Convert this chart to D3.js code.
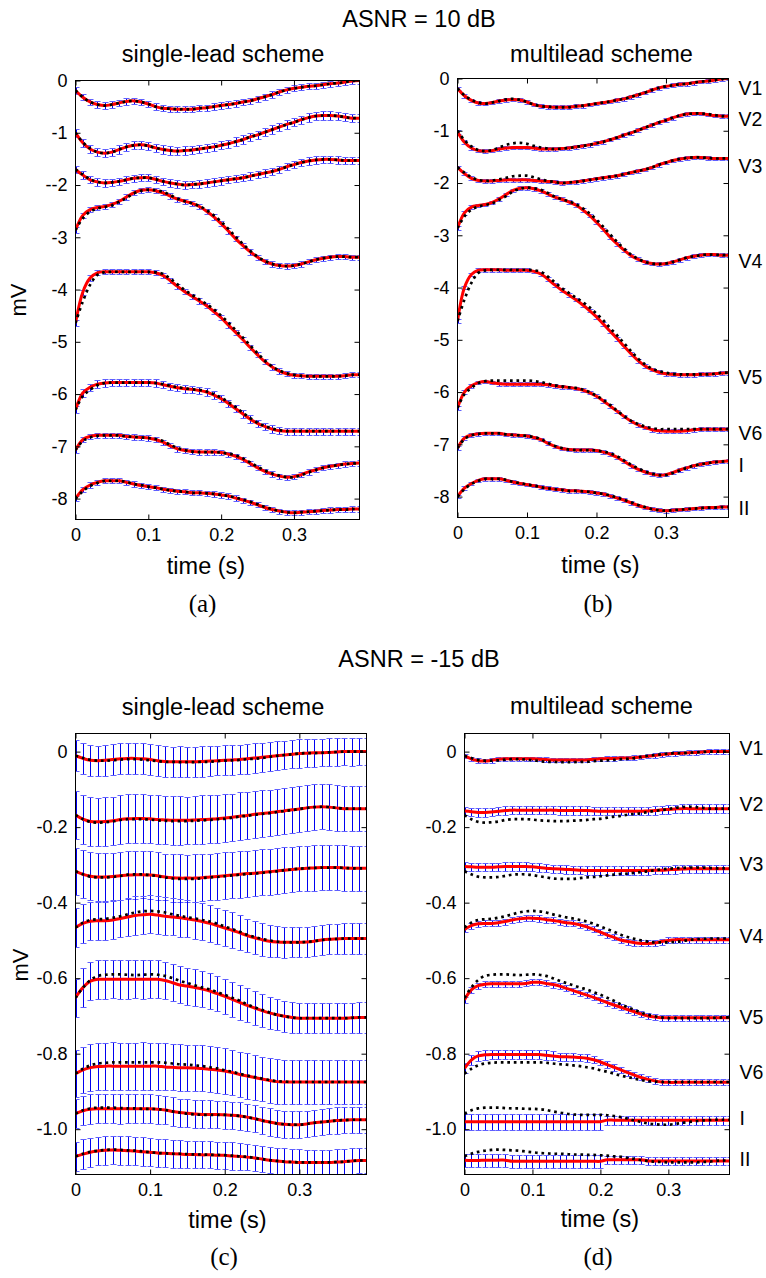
<!DOCTYPE html>
<html>
<head>
<meta charset="utf-8">
<script src="https://cdn.jsdelivr.net/npm/d3@7"></script>
<style>
  body { margin: 0; background: #fff; }
  svg { display: block; }
  text { fill: #000; }
</style>
</head>
<body>
<svg id="fig" width="766" height="1278"></svg>
<script>
// ---------------- data ----------------
const time = [0,0.01,0.02,0.03,0.04,0.05,0.06,0.07,0.08,0.09,0.10,0.11,0.12,0.13,0.14,0.15,0.16,0.17,0.18,0.19,
              0.20,0.21,0.22,0.23,0.24,0.25,0.26,0.27,0.28,0.29,0.30,0.31,0.32,0.33,0.34,0.35,0.36,0.37,0.38,0.39];
const leads = ["V1","V2","V3","V4","V5","V6","I","II"];

const xTicks = [0, 0.1, 0.2, 0.3];
const xTickLabels = ["0", "0.1", "0.2", "0.3"];
const yTicksTop = [0,-1,-2,-3,-4,-5,-6,-7,-8];
const yTickLabelsSingleTop = ["0","-1","--2","-3","-4","-5","-6","-7","-8"];
const yTickLabelsMultiTop = ["0","-1","-2","-3","-4","-5","-6","-7","-8"];
const yTicksBottom = [0,-0.2,-0.4,-0.6,-0.8,-1.0];
const yTickLabelsBottom = ["0","-0.2","-0.4","-0.6","-0.8","-1.0"];

// ASNR = 10 dB : reference beats (mV, offset per lead)
const trueTop = [
  [-0.19,-0.32,-0.41,-0.46,-0.48,-0.46,-0.43,-0.40,-0.39,-0.41,-0.45,-0.50,-0.53,-0.54,-0.55,-0.55,-0.55,-0.53,-0.52,-0.50,-0.48,-0.46,-0.44,-0.41,-0.39,-0.35,-0.31,-0.27,-0.22,-0.18,-0.15,-0.13,-0.11,-0.10,-0.08,-0.06,-0.05,-0.03,-0.01,0.00],
  [-1.00,-1.18,-1.30,-1.37,-1.39,-1.37,-1.32,-1.27,-1.24,-1.23,-1.25,-1.29,-1.32,-1.34,-1.35,-1.34,-1.33,-1.31,-1.29,-1.27,-1.24,-1.21,-1.17,-1.13,-1.08,-1.04,-0.99,-0.94,-0.89,-0.84,-0.80,-0.75,-0.71,-0.68,-0.67,-0.67,-0.68,-0.70,-0.72,-0.72],
  [-1.70,-1.80,-1.89,-1.94,-1.96,-1.95,-1.93,-1.90,-1.87,-1.86,-1.86,-1.89,-1.93,-1.96,-1.98,-2.00,-1.99,-1.98,-1.96,-1.94,-1.92,-1.90,-1.88,-1.86,-1.83,-1.80,-1.77,-1.74,-1.70,-1.65,-1.61,-1.57,-1.54,-1.52,-1.51,-1.51,-1.52,-1.53,-1.53,-1.53],
  [-2.86,-2.64,-2.51,-2.45,-2.42,-2.39,-2.32,-2.25,-2.16,-2.11,-2.09,-2.10,-2.13,-2.19,-2.26,-2.31,-2.35,-2.40,-2.48,-2.58,-2.70,-2.84,-2.99,-3.13,-3.26,-3.37,-3.45,-3.51,-3.54,-3.55,-3.54,-3.51,-3.47,-3.43,-3.40,-3.38,-3.37,-3.37,-3.38,-3.38],
  [-4.64,-4.23,-3.91,-3.72,-3.67,-3.66,-3.66,-3.66,-3.66,-3.66,-3.66,-3.67,-3.70,-3.79,-3.90,-4.01,-4.10,-4.19,-4.28,-4.38,-4.50,-4.63,-4.78,-4.92,-5.07,-5.22,-5.36,-5.47,-5.55,-5.60,-5.63,-5.65,-5.66,-5.66,-5.66,-5.66,-5.66,-5.65,-5.63,-5.63],
  [-6.30,-6.04,-5.92,-5.83,-5.79,-5.78,-5.78,-5.78,-5.78,-5.78,-5.78,-5.79,-5.81,-5.84,-5.87,-5.89,-5.91,-5.92,-5.95,-6.00,-6.07,-6.15,-6.25,-6.36,-6.46,-6.55,-6.61,-6.66,-6.69,-6.71,-6.71,-6.71,-6.71,-6.71,-6.71,-6.71,-6.71,-6.71,-6.71,-6.71],
  [-7.07,-6.90,-6.83,-6.80,-6.79,-6.79,-6.79,-6.81,-6.82,-6.83,-6.84,-6.86,-6.90,-6.97,-7.03,-7.07,-7.10,-7.11,-7.11,-7.11,-7.12,-7.14,-7.17,-7.23,-7.31,-7.39,-7.46,-7.52,-7.56,-7.59,-7.59,-7.55,-7.50,-7.45,-7.41,-7.38,-7.36,-7.34,-7.33,-7.32],
  [-8.00,-7.86,-7.76,-7.70,-7.66,-7.66,-7.66,-7.68,-7.72,-7.74,-7.77,-7.79,-7.82,-7.84,-7.86,-7.87,-7.89,-7.89,-7.90,-7.91,-7.93,-7.95,-7.98,-8.02,-8.06,-8.11,-8.16,-8.20,-8.24,-8.26,-8.27,-8.26,-8.25,-8.24,-8.23,-8.22,-8.21,-8.21,-8.20,-8.20]
];

// single-lead estimate, ASNR = 10 dB
const estSingleTop = [
  [-0.19,-0.32,-0.41,-0.46,-0.48,-0.46,-0.43,-0.40,-0.39,-0.41,-0.45,-0.50,-0.53,-0.54,-0.55,-0.55,-0.55,-0.53,-0.52,-0.50,-0.48,-0.46,-0.44,-0.41,-0.39,-0.35,-0.31,-0.27,-0.22,-0.18,-0.15,-0.13,-0.11,-0.10,-0.08,-0.06,-0.05,-0.03,-0.01,0.00],
  [-1.00,-1.19,-1.31,-1.37,-1.39,-1.37,-1.32,-1.27,-1.24,-1.23,-1.25,-1.29,-1.32,-1.34,-1.35,-1.34,-1.33,-1.31,-1.29,-1.27,-1.24,-1.21,-1.17,-1.13,-1.08,-1.04,-0.99,-0.94,-0.89,-0.84,-0.80,-0.75,-0.71,-0.68,-0.67,-0.67,-0.68,-0.70,-0.72,-0.72],
  [-1.70,-1.81,-1.90,-1.94,-1.96,-1.95,-1.93,-1.90,-1.87,-1.86,-1.86,-1.89,-1.93,-1.96,-1.98,-2.00,-1.99,-1.98,-1.96,-1.94,-1.92,-1.90,-1.88,-1.86,-1.83,-1.80,-1.77,-1.74,-1.70,-1.65,-1.61,-1.57,-1.54,-1.52,-1.51,-1.51,-1.52,-1.53,-1.53,-1.53],
  [-2.86,-2.58,-2.47,-2.43,-2.41,-2.37,-2.31,-2.23,-2.15,-2.10,-2.09,-2.11,-2.15,-2.21,-2.27,-2.31,-2.35,-2.41,-2.50,-2.61,-2.74,-2.88,-3.03,-3.16,-3.28,-3.38,-3.46,-3.51,-3.54,-3.55,-3.54,-3.51,-3.47,-3.43,-3.40,-3.38,-3.37,-3.37,-3.38,-3.38],
  [-4.64,-4.05,-3.78,-3.68,-3.66,-3.66,-3.66,-3.66,-3.66,-3.66,-3.66,-3.68,-3.73,-3.83,-3.94,-4.04,-4.13,-4.22,-4.31,-4.42,-4.54,-4.68,-4.82,-4.96,-5.11,-5.25,-5.38,-5.48,-5.56,-5.61,-5.64,-5.65,-5.66,-5.66,-5.66,-5.66,-5.66,-5.65,-5.63,-5.63],
  [-6.30,-5.98,-5.87,-5.81,-5.79,-5.78,-5.78,-5.78,-5.78,-5.78,-5.78,-5.79,-5.82,-5.85,-5.88,-5.90,-5.91,-5.93,-5.96,-6.02,-6.09,-6.18,-6.28,-6.38,-6.48,-6.56,-6.62,-6.67,-6.70,-6.71,-6.71,-6.71,-6.71,-6.71,-6.71,-6.71,-6.71,-6.71,-6.71,-6.71],
  [-7.07,-6.87,-6.81,-6.79,-6.79,-6.79,-6.79,-6.81,-6.82,-6.83,-6.84,-6.87,-6.92,-6.99,-7.05,-7.08,-7.10,-7.11,-7.11,-7.11,-7.12,-7.15,-7.19,-7.25,-7.33,-7.41,-7.48,-7.53,-7.57,-7.59,-7.58,-7.54,-7.49,-7.45,-7.41,-7.38,-7.36,-7.34,-7.33,-7.32],
  [-8.00,-7.83,-7.74,-7.69,-7.66,-7.66,-7.66,-7.69,-7.72,-7.75,-7.77,-7.79,-7.82,-7.84,-7.86,-7.87,-7.89,-7.89,-7.90,-7.91,-7.93,-7.95,-7.99,-8.03,-8.07,-8.12,-8.17,-8.21,-8.24,-8.26,-8.27,-8.26,-8.25,-8.24,-8.23,-8.22,-8.21,-8.21,-8.20,-8.20]
];

// multilead estimate, ASNR = 10 dB
const estMultiTop = [
  [-0.19,-0.33,-0.42,-0.47,-0.48,-0.46,-0.43,-0.41,-0.40,-0.41,-0.45,-0.50,-0.53,-0.54,-0.55,-0.55,-0.55,-0.53,-0.52,-0.50,-0.48,-0.46,-0.44,-0.41,-0.39,-0.35,-0.31,-0.27,-0.22,-0.18,-0.15,-0.13,-0.11,-0.10,-0.08,-0.06,-0.05,-0.03,-0.01,0.00],
  [-1.02,-1.22,-1.33,-1.38,-1.39,-1.38,-1.35,-1.33,-1.32,-1.32,-1.32,-1.33,-1.35,-1.35,-1.35,-1.34,-1.33,-1.31,-1.29,-1.27,-1.24,-1.21,-1.17,-1.13,-1.08,-1.04,-0.99,-0.94,-0.89,-0.84,-0.80,-0.75,-0.71,-0.68,-0.67,-0.67,-0.69,-0.71,-0.72,-0.72],
  [-1.70,-1.82,-1.91,-1.95,-1.96,-1.96,-1.95,-1.94,-1.94,-1.94,-1.94,-1.95,-1.96,-1.97,-1.98,-2.00,-1.99,-1.98,-1.96,-1.94,-1.92,-1.90,-1.88,-1.86,-1.83,-1.80,-1.77,-1.74,-1.70,-1.65,-1.61,-1.57,-1.54,-1.52,-1.51,-1.51,-1.52,-1.53,-1.53,-1.53],
  [-2.86,-2.57,-2.46,-2.43,-2.41,-2.37,-2.30,-2.22,-2.14,-2.10,-2.09,-2.11,-2.15,-2.21,-2.27,-2.31,-2.36,-2.42,-2.51,-2.62,-2.75,-2.89,-3.04,-3.17,-3.29,-3.39,-3.46,-3.51,-3.54,-3.55,-3.54,-3.51,-3.47,-3.43,-3.40,-3.38,-3.37,-3.37,-3.38,-3.38],
  [-4.64,-4.00,-3.75,-3.67,-3.66,-3.66,-3.66,-3.67,-3.67,-3.67,-3.67,-3.69,-3.74,-3.84,-3.95,-4.05,-4.14,-4.23,-4.33,-4.44,-4.56,-4.70,-4.84,-4.98,-5.13,-5.27,-5.40,-5.50,-5.57,-5.62,-5.65,-5.66,-5.67,-5.67,-5.67,-5.66,-5.66,-5.65,-5.64,-5.63],
  [-6.30,-6.00,-5.88,-5.82,-5.80,-5.82,-5.84,-5.85,-5.85,-5.85,-5.85,-5.85,-5.85,-5.86,-5.88,-5.90,-5.91,-5.93,-5.96,-6.01,-6.08,-6.17,-6.27,-6.37,-6.47,-6.56,-6.63,-6.68,-6.72,-6.74,-6.75,-6.75,-6.75,-6.74,-6.72,-6.71,-6.71,-6.71,-6.71,-6.71],
  [-7.07,-6.88,-6.82,-6.80,-6.79,-6.79,-6.79,-6.81,-6.82,-6.83,-6.84,-6.87,-6.91,-6.98,-7.04,-7.08,-7.10,-7.11,-7.11,-7.11,-7.12,-7.15,-7.19,-7.25,-7.33,-7.41,-7.48,-7.53,-7.57,-7.59,-7.58,-7.54,-7.49,-7.45,-7.41,-7.38,-7.36,-7.34,-7.33,-7.32],
  [-8.00,-7.84,-7.75,-7.69,-7.66,-7.66,-7.66,-7.69,-7.72,-7.75,-7.77,-7.79,-7.82,-7.84,-7.86,-7.87,-7.89,-7.89,-7.90,-7.91,-7.93,-7.95,-7.99,-8.03,-8.07,-8.12,-8.17,-8.21,-8.24,-8.26,-8.27,-8.26,-8.25,-8.24,-8.23,-8.22,-8.21,-8.21,-8.20,-8.20]
];

// standard deviation of the estimates, ASNR = 10 dB (mV, per lead)
const stdSingleTop = [0.06, 0.08, 0.07, 0.05, 0.05, 0.07, 0.05, 0.05];
const stdMultiTop  = [0.035, 0.035, 0.035, 0.035, 0.035, 0.035, 0.035, 0.035];

// ASNR = -15 dB : reference beats (mV, offset per lead)
const trueBottom = [
  [-0.011,-0.017,-0.022,-0.024,-0.024,-0.023,-0.021,-0.020,-0.020,-0.021,-0.023,-0.025,-0.027,-0.027,-0.028,-0.028,-0.028,-0.027,-0.027,-0.025,-0.024,-0.023,-0.022,-0.020,-0.019,-0.017,-0.014,-0.011,-0.009,-0.007,-0.005,-0.004,-0.004,-0.003,-0.002,-0.001,0.000,0.000,0.000,0.000],
  [-0.168,-0.179,-0.186,-0.188,-0.187,-0.185,-0.181,-0.179,-0.179,-0.179,-0.180,-0.182,-0.183,-0.184,-0.184,-0.184,-0.183,-0.182,-0.181,-0.179,-0.178,-0.175,-0.172,-0.170,-0.167,-0.165,-0.163,-0.160,-0.157,-0.155,-0.152,-0.149,-0.147,-0.146,-0.147,-0.149,-0.151,-0.151,-0.151,-0.151],
  [-0.317,-0.325,-0.331,-0.333,-0.333,-0.332,-0.329,-0.326,-0.325,-0.325,-0.327,-0.330,-0.333,-0.336,-0.337,-0.337,-0.337,-0.335,-0.333,-0.332,-0.330,-0.328,-0.326,-0.324,-0.323,-0.321,-0.319,-0.317,-0.314,-0.312,-0.310,-0.309,-0.308,-0.307,-0.307,-0.307,-0.308,-0.309,-0.309,-0.309],
  [-0.466,-0.453,-0.446,-0.444,-0.443,-0.440,-0.436,-0.431,-0.426,-0.423,-0.422,-0.423,-0.426,-0.431,-0.435,-0.439,-0.442,-0.446,-0.450,-0.456,-0.463,-0.470,-0.477,-0.485,-0.491,-0.496,-0.500,-0.503,-0.505,-0.505,-0.505,-0.504,-0.502,-0.499,-0.497,-0.496,-0.495,-0.495,-0.495,-0.495],
  [-0.652,-0.625,-0.605,-0.594,-0.591,-0.590,-0.590,-0.591,-0.592,-0.591,-0.590,-0.591,-0.594,-0.600,-0.607,-0.613,-0.619,-0.625,-0.630,-0.637,-0.644,-0.652,-0.660,-0.669,-0.677,-0.684,-0.691,-0.697,-0.701,-0.704,-0.706,-0.706,-0.706,-0.706,-0.706,-0.706,-0.706,-0.705,-0.704,-0.704],
  [-0.853,-0.840,-0.831,-0.826,-0.824,-0.823,-0.823,-0.823,-0.823,-0.823,-0.823,-0.823,-0.824,-0.826,-0.828,-0.829,-0.831,-0.833,-0.836,-0.839,-0.844,-0.848,-0.853,-0.858,-0.862,-0.866,-0.870,-0.873,-0.874,-0.875,-0.875,-0.875,-0.875,-0.875,-0.875,-0.875,-0.875,-0.875,-0.875,-0.875],
  [-0.959,-0.950,-0.945,-0.943,-0.943,-0.943,-0.944,-0.945,-0.945,-0.946,-0.946,-0.947,-0.949,-0.953,-0.956,-0.959,-0.961,-0.962,-0.962,-0.962,-0.962,-0.963,-0.965,-0.968,-0.972,-0.977,-0.981,-0.985,-0.987,-0.988,-0.988,-0.986,-0.983,-0.981,-0.979,-0.977,-0.976,-0.975,-0.975,-0.975],
  [-1.072,-1.065,-1.060,-1.057,-1.055,-1.054,-1.055,-1.056,-1.057,-1.059,-1.061,-1.063,-1.064,-1.065,-1.065,-1.066,-1.067,-1.067,-1.068,-1.068,-1.069,-1.070,-1.072,-1.073,-1.076,-1.079,-1.082,-1.084,-1.086,-1.087,-1.088,-1.088,-1.088,-1.088,-1.088,-1.087,-1.086,-1.084,-1.083,-1.083]
];

// single-lead estimate, ASNR = -15 dB
const estSingleBottom = [
  [-0.011,-0.018,-0.023,-0.024,-0.023,-0.021,-0.019,-0.018,-0.018,-0.019,-0.021,-0.024,-0.026,-0.027,-0.027,-0.027,-0.027,-0.026,-0.025,-0.024,-0.023,-0.022,-0.021,-0.019,-0.017,-0.015,-0.013,-0.011,-0.009,-0.007,-0.005,-0.004,-0.003,-0.003,-0.002,-0.001,0.000,0.000,0.000,0.000],
  [-0.168,-0.179,-0.185,-0.186,-0.185,-0.183,-0.180,-0.178,-0.177,-0.177,-0.178,-0.180,-0.181,-0.182,-0.182,-0.182,-0.181,-0.180,-0.179,-0.178,-0.176,-0.174,-0.171,-0.169,-0.166,-0.164,-0.162,-0.159,-0.157,-0.154,-0.152,-0.149,-0.147,-0.146,-0.147,-0.149,-0.151,-0.151,-0.151,-0.151],
  [-0.317,-0.325,-0.330,-0.332,-0.332,-0.331,-0.329,-0.327,-0.326,-0.326,-0.327,-0.329,-0.332,-0.334,-0.335,-0.335,-0.335,-0.334,-0.332,-0.331,-0.329,-0.327,-0.325,-0.323,-0.322,-0.320,-0.318,-0.316,-0.314,-0.312,-0.310,-0.309,-0.308,-0.307,-0.307,-0.307,-0.308,-0.309,-0.309,-0.309],
  [-0.466,-0.455,-0.449,-0.448,-0.448,-0.446,-0.442,-0.438,-0.434,-0.432,-0.431,-0.433,-0.436,-0.438,-0.440,-0.443,-0.446,-0.450,-0.455,-0.461,-0.467,-0.473,-0.480,-0.487,-0.493,-0.498,-0.502,-0.504,-0.505,-0.505,-0.505,-0.504,-0.502,-0.499,-0.497,-0.496,-0.495,-0.495,-0.495,-0.495],
  [-0.652,-0.625,-0.608,-0.603,-0.603,-0.603,-0.603,-0.603,-0.603,-0.603,-0.603,-0.603,-0.606,-0.612,-0.618,-0.621,-0.625,-0.629,-0.634,-0.641,-0.648,-0.656,-0.664,-0.672,-0.679,-0.686,-0.692,-0.697,-0.701,-0.704,-0.706,-0.706,-0.706,-0.706,-0.706,-0.706,-0.706,-0.705,-0.704,-0.704],
  [-0.853,-0.843,-0.837,-0.834,-0.833,-0.833,-0.833,-0.833,-0.833,-0.833,-0.833,-0.833,-0.835,-0.836,-0.837,-0.837,-0.838,-0.839,-0.841,-0.843,-0.846,-0.850,-0.855,-0.859,-0.863,-0.867,-0.871,-0.874,-0.875,-0.875,-0.875,-0.875,-0.875,-0.875,-0.875,-0.875,-0.875,-0.875,-0.875,-0.875],
  [-0.959,-0.951,-0.947,-0.946,-0.946,-0.946,-0.946,-0.946,-0.946,-0.946,-0.946,-0.947,-0.949,-0.953,-0.956,-0.958,-0.960,-0.961,-0.961,-0.961,-0.962,-0.963,-0.965,-0.968,-0.972,-0.977,-0.981,-0.985,-0.987,-0.988,-0.988,-0.986,-0.983,-0.981,-0.979,-0.977,-0.976,-0.975,-0.975,-0.975],
  [-1.072,-1.066,-1.061,-1.058,-1.056,-1.055,-1.056,-1.057,-1.058,-1.060,-1.061,-1.063,-1.064,-1.065,-1.066,-1.067,-1.067,-1.068,-1.068,-1.069,-1.069,-1.071,-1.072,-1.074,-1.076,-1.079,-1.082,-1.084,-1.086,-1.087,-1.088,-1.088,-1.088,-1.088,-1.088,-1.087,-1.086,-1.084,-1.083,-1.083]
];

// multilead estimate, ASNR = -15 dB
const estMultiBottom = [
  [-0.011,-0.019,-0.024,-0.025,-0.023,-0.020,-0.019,-0.019,-0.019,-0.019,-0.019,-0.020,-0.021,-0.022,-0.022,-0.022,-0.022,-0.022,-0.022,-0.020,-0.019,-0.018,-0.018,-0.017,-0.017,-0.016,-0.014,-0.012,-0.010,-0.008,-0.006,-0.005,-0.004,-0.003,-0.002,-0.001,0.000,0.000,0.000,0.000],
  [-0.157,-0.159,-0.161,-0.161,-0.160,-0.158,-0.156,-0.155,-0.155,-0.155,-0.155,-0.155,-0.155,-0.155,-0.156,-0.156,-0.156,-0.156,-0.156,-0.157,-0.158,-0.158,-0.158,-0.158,-0.158,-0.158,-0.158,-0.157,-0.156,-0.154,-0.153,-0.152,-0.151,-0.151,-0.151,-0.151,-0.151,-0.151,-0.151,-0.151],
  [-0.304,-0.305,-0.306,-0.306,-0.306,-0.305,-0.304,-0.304,-0.304,-0.304,-0.305,-0.307,-0.309,-0.310,-0.311,-0.312,-0.313,-0.314,-0.315,-0.315,-0.315,-0.315,-0.315,-0.315,-0.315,-0.315,-0.315,-0.315,-0.314,-0.314,-0.313,-0.312,-0.311,-0.310,-0.310,-0.310,-0.310,-0.310,-0.310,-0.310],
  [-0.471,-0.461,-0.456,-0.455,-0.455,-0.453,-0.450,-0.446,-0.443,-0.441,-0.441,-0.442,-0.445,-0.447,-0.450,-0.453,-0.455,-0.459,-0.464,-0.471,-0.478,-0.486,-0.492,-0.499,-0.503,-0.506,-0.508,-0.508,-0.507,-0.503,-0.500,-0.498,-0.498,-0.498,-0.498,-0.498,-0.498,-0.498,-0.498,-0.498],
  [-0.657,-0.631,-0.620,-0.616,-0.615,-0.615,-0.615,-0.615,-0.615,-0.614,-0.611,-0.611,-0.614,-0.617,-0.621,-0.627,-0.633,-0.639,-0.645,-0.651,-0.658,-0.665,-0.671,-0.677,-0.683,-0.689,-0.695,-0.700,-0.703,-0.705,-0.705,-0.705,-0.705,-0.705,-0.705,-0.705,-0.705,-0.705,-0.705,-0.705],
  [-0.839,-0.817,-0.806,-0.803,-0.802,-0.802,-0.802,-0.802,-0.802,-0.802,-0.802,-0.802,-0.804,-0.806,-0.808,-0.808,-0.809,-0.810,-0.812,-0.816,-0.822,-0.829,-0.836,-0.843,-0.850,-0.857,-0.863,-0.868,-0.872,-0.875,-0.876,-0.876,-0.876,-0.876,-0.876,-0.876,-0.876,-0.876,-0.876,-0.876],
  [-0.980,-0.980,-0.980,-0.980,-0.980,-0.980,-0.980,-0.980,-0.980,-0.980,-0.980,-0.980,-0.980,-0.980,-0.980,-0.980,-0.980,-0.980,-0.980,-0.980,-0.980,-0.976,-0.976,-0.976,-0.976,-0.976,-0.976,-0.976,-0.976,-0.976,-0.976,-0.976,-0.976,-0.976,-0.976,-0.976,-0.976,-0.976,-0.976,-0.976],
  [-1.082,-1.083,-1.083,-1.082,-1.082,-1.082,-1.082,-1.085,-1.085,-1.085,-1.085,-1.085,-1.085,-1.085,-1.085,-1.085,-1.085,-1.085,-1.085,-1.085,-1.085,-1.081,-1.081,-1.081,-1.081,-1.081,-1.081,-1.084,-1.084,-1.084,-1.084,-1.084,-1.084,-1.084,-1.084,-1.084,-1.084,-1.084,-1.084,-1.084]
];

// standard deviation of the estimates, ASNR = -15 dB (mV)
const stdSingleBottom = [
  [0.041,0.040,0.041,0.040,0.041,0.040,0.041,0.041,0.040,0.041,0.040,0.041,0.040,0.040,0.041,0.040,0.040,0.041,0.040,0.039,0.040,0.039,0.039,0.040,0.039,0.038,0.039,0.038,0.038,0.037,0.038,0.037,0.037,0.036,0.037,0.036,0.036,0.037,0.036,0.036],
  [0.064,0.065,0.064,0.064,0.065,0.064,0.064,0.065,0.064,0.064,0.064,0.065,0.064,0.064,0.064,0.063,0.064,0.064,0.063,0.063,0.063,0.062,0.063,0.062,0.062,0.062,0.061,0.061,0.061,0.061,0.060,0.061,0.060,0.060,0.060,0.060,0.060,0.060,0.060,0.060],
  [0.063,0.064,0.063,0.063,0.064,0.063,0.063,0.063,0.064,0.063,0.063,0.063,0.062,0.063,0.063,0.062,0.063,0.062,0.062,0.062,0.062,0.061,0.062,0.061,0.061,0.061,0.061,0.060,0.061,0.060,0.060,0.060,0.060,0.060,0.060,0.060,0.060,0.060,0.060,0.060],
  [0.052,0.051,0.050,0.050,0.051,0.050,0.050,0.050,0.051,0.050,0.050,0.050,0.050,0.049,0.050,0.049,0.049,0.049,0.048,0.048,0.047,0.047,0.046,0.045,0.044,0.043,0.042,0.041,0.041,0.040,0.040,0.040,0.040,0.040,0.040,0.040,0.040,0.040,0.040,0.040],
  [0.050,0.051,0.051,0.051,0.051,0.050,0.051,0.051,0.050,0.051,0.050,0.050,0.050,0.049,0.049,0.049,0.048,0.048,0.048,0.047,0.047,0.046,0.046,0.045,0.044,0.043,0.042,0.041,0.041,0.040,0.040,0.040,0.040,0.040,0.040,0.040,0.040,0.040,0.040,0.040],
  [0.062,0.062,0.063,0.062,0.062,0.063,0.062,0.062,0.062,0.063,0.062,0.062,0.062,0.061,0.062,0.061,0.061,0.061,0.061,0.060,0.060,0.060,0.060,0.060,0.059,0.059,0.059,0.059,0.059,0.059,0.059,0.058,0.059,0.058,0.058,0.058,0.058,0.058,0.058,0.058],
  [0.038,0.038,0.039,0.038,0.038,0.038,0.039,0.038,0.038,0.038,0.038,0.038,0.037,0.038,0.037,0.037,0.037,0.037,0.037,0.036,0.037,0.036,0.036,0.036,0.036,0.036,0.036,0.035,0.036,0.035,0.035,0.035,0.035,0.035,0.035,0.035,0.035,0.035,0.035,0.035],
  [0.038,0.039,0.038,0.038,0.039,0.038,0.038,0.038,0.038,0.038,0.037,0.038,0.037,0.037,0.037,0.037,0.037,0.036,0.036,0.036,0.036,0.036,0.036,0.035,0.035,0.035,0.035,0.035,0.035,0.034,0.035,0.034,0.034,0.034,0.034,0.034,0.034,0.034,0.034,0.034]
];
const stdMultiBottom = [
  0.006, 0.011, 0.011, 0.008, 0.008,
  [0.013,0.013,0.013,0.013,0.013,0.013,0.013,0.013,0.013,0.013,0.013,0.013,0.013,0.012,0.011,0.011,0.010,0.010,0.010,0.009,0.009,0.009,0.009,0.008,0.008,0.008,0.008,0.008,0.008,0.008,0.008,0.008,0.008,0.008,0.008,0.008,0.008,0.008,0.008,0.008],
  [0.021,0.021,0.021,0.021,0.021,0.021,0.021,0.021,0.021,0.021,0.021,0.021,0.021,0.021,0.021,0.021,0.021,0.021,0.021,0.021,0.021,0.012,0.012,0.012,0.012,0.012,0.012,0.012,0.012,0.012,0.012,0.012,0.012,0.012,0.012,0.012,0.012,0.012,0.012,0.012],
  [0.017,0.017,0.017,0.017,0.017,0.017,0.017,0.017,0.017,0.017,0.017,0.017,0.017,0.017,0.017,0.017,0.017,0.017,0.017,0.017,0.017,0.010,0.010,0.010,0.010,0.010,0.010,0.010,0.010,0.010,0.010,0.010,0.010,0.010,0.010,0.010,0.010,0.010,0.010,0.010]
];

// lead-name anchors (mV) beside the multilead panels
const leadLabelMvTop = [-0.19, -0.78, -1.67, -3.49, -5.71, -6.78, -7.40, -8.22];
const leadLabelMvBottom = [0.009, -0.139, -0.298, -0.489, -0.702, -0.848, -0.969, -1.078];

// ---------------- drawing ----------------
const SANS = 'Arial, "Liberation Sans", Helvetica, sans-serif';
const SERIF = '"Times New Roman", "Liberation Serif", Times, serif';
const svg = d3.select("#fig");
const FONT_TICK = 18, FONT_LABEL = 23.5;
const crisp = v => Math.round(v) + 0.5;

function drawPanel(id, box, yDomain, yTicks, yTickLabels, truth, est, std, leadAnchors) {
  const x = d3.scaleLinear().domain([0, 0.39]).range([box.left, box.right]);
  const y = d3.scaleLinear().domain(yDomain).range([box.bottom, box.top]);
  const g = svg.append("g");

  g.append("clipPath").attr("id", "clip-" + id)
    .append("rect").attr("x", box.left).attr("y", box.top)
    .attr("width", box.right - box.left).attr("height", box.bottom - box.top);

  const plot = g.append("g").attr("clip-path", "url(#clip-" + id + ")");
  const sd = (i, j) => Array.isArray(std[i]) ? std[i][j] : std[i];

  // error bars (mean +/- one standard deviation)
  est.forEach((series, i) => {
    const bars = plot.append("g").attr("stroke-width", 1).attr("fill", "none");
    series.forEach((v, j) => {
      const cx = crisp(x(time[j]));
      const yT = crisp(y(v + sd(i, j))), yB = crisp(y(v - sd(i, j)));
      bars.append("line").attr("x1", cx).attr("x2", cx).attr("y1", yT).attr("y2", yB).attr("stroke", "#0000f0");
      bars.append("line").attr("x1", cx - 3).attr("x2", cx + 3).attr("y1", yT).attr("y2", yT).attr("stroke", "#6060ff");
      bars.append("line").attr("x1", cx - 3).attr("x2", cx + 3).attr("y1", yB).attr("y2", yB).attr("stroke", "#6060ff");
    });
  });

  const line = d3.line().x((d, j) => x(time[j])).y(d => y(d)).curve(d3.curveCatmullRom);

  // estimated beats
  plot.selectAll("path.est").data(est).join("path")
    .attr("class", "est").attr("d", line)
    .attr("fill", "none").attr("stroke", "#ff0000").attr("stroke-width", 3);

  // reference beats
  plot.selectAll("path.truth").data(truth).join("path")
    .attr("class", "truth").attr("d", line)
    .attr("fill", "none").attr("stroke", "#000").attr("stroke-width", 2.7)
    .attr("stroke-dasharray", "2.7 3.8");

  // axes (box with inward ticks on all four sides)
  const xAxis = d3.axisBottom(x).tickValues(xTicks).tickFormat((d, i) => xTickLabels[i])
    .tickSizeInner(-5).tickSizeOuter(0).tickPadding(9);
  const yAxis = d3.axisLeft(y).tickValues(yTicks).tickFormat((d, i) => yTickLabels[i])
    .tickSizeInner(-5).tickSizeOuter(0).tickPadding(8);
  const ax = g.append("g").attr("transform", `translate(0,${box.bottom})`).call(xAxis);
  const ay = g.append("g").attr("transform", `translate(${box.left},0)`).call(yAxis);
  g.append("g").attr("transform", `translate(0,${box.top})`)
    .call(d3.axisTop(x).tickValues(xTicks).tickFormat("").tickSizeInner(-5).tickSizeOuter(0));
  g.append("g").attr("transform", `translate(${box.right},0)`)
    .call(d3.axisRight(y).tickValues(yTicks).tickFormat("").tickSizeInner(-5).tickSizeOuter(0));
  g.selectAll(".domain").remove();
  g.selectAll(".tick line").attr("stroke", "#000");
  [ax, ay].forEach(a => a.selectAll("text")
    .style("font-family", SANS).style("font-size", FONT_TICK + "px").attr("fill", "#000"));

  g.append("rect").attr("x", box.left).attr("y", box.top)
    .attr("width", box.right - box.left).attr("height", box.bottom - box.top)
    .attr("fill", "none").attr("stroke", "#000").attr("stroke-width", 1);

  if (leadAnchors) {
    g.selectAll("text.lead").data(leads).join("text")
      .attr("class", "lead")
      .attr("x", box.right + 10)
      .attr("y", (d, i) => y(leadAnchors[i]))
      .attr("dy", "0.36em")
      .style("font-family", SANS).style("font-size", "19.5px")
      .text(d => d);
  }
}

const boxA = {left: 75.5, right: 359.5, top: 80.5, bottom: 519.5};
const boxB = {left: 457.5, right: 728.5, top: 78.5, bottom: 517.5};
const boxC = {left: 75.5, right: 366.5, top: 733.5, bottom: 1174.5};
const boxD = {left: 464.5, right: 729.5, top: 733.5, bottom: 1174.5};

drawPanel("a", boxA, [-8.4, 0], yTicksTop, yTickLabelsSingleTop, trueTop, estSingleTop, stdSingleTop, null);
drawPanel("b", boxB, [-8.4, 0], yTicksTop, yTickLabelsMultiTop, trueTop, estMultiTop, stdMultiTop, leadLabelMvTop);
drawPanel("c", boxC, [-1.12, 0.048], yTicksBottom, yTickLabelsBottom, trueBottom, estSingleBottom, stdSingleBottom, null);
drawPanel("d", boxD, [-1.12, 0.048], yTicksBottom, yTickLabelsBottom, trueBottom, estMultiBottom, stdMultiBottom, leadLabelMvBottom);

// titles, axis labels and panel letters
function label(txt, x, y, size, opts = {}) {
  const t = svg.append("text").attr("x", x).attr("y", y)
    .attr("text-anchor", "middle")
    .style("font-family", opts.serif ? SERIF : SANS)
    .style("font-size", size + "px").text(txt);
  if (opts.rotate) t.attr("transform", `rotate(-90,${x},${y})`);
  return t;
}
label("ASNR = 10 dB", 419, 27, FONT_LABEL);
label("single-lead scheme", 223, 61.5, FONT_LABEL);
label("multilead scheme", 601.5, 61.5, FONT_LABEL);
label("mV", 26, 300, FONT_LABEL - 1.5, {rotate: true});
label("time (s)", 206, 574, FONT_LABEL);
label("time (s)", 600.5, 573, FONT_LABEL);
label("(a)", 202.5, 612, 25, {serif: true});
label("(b)", 598, 612, 25, {serif: true});

label("ASNR = -15 dB", 419, 667, FONT_LABEL);
label("single-lead scheme", 223, 715, FONT_LABEL);
label("multilead scheme", 601.5, 714, FONT_LABEL);
label("mV", 28, 965, FONT_LABEL - 1.5, {rotate: true});
label("time (s)", 227.5, 1228, FONT_LABEL);
label("time (s)", 600, 1227, FONT_LABEL);
label("(c)", 224, 1265, 25, {serif: true});
label("(d)", 598, 1265, 25, {serif: true});
</script>
</body>
</html>
